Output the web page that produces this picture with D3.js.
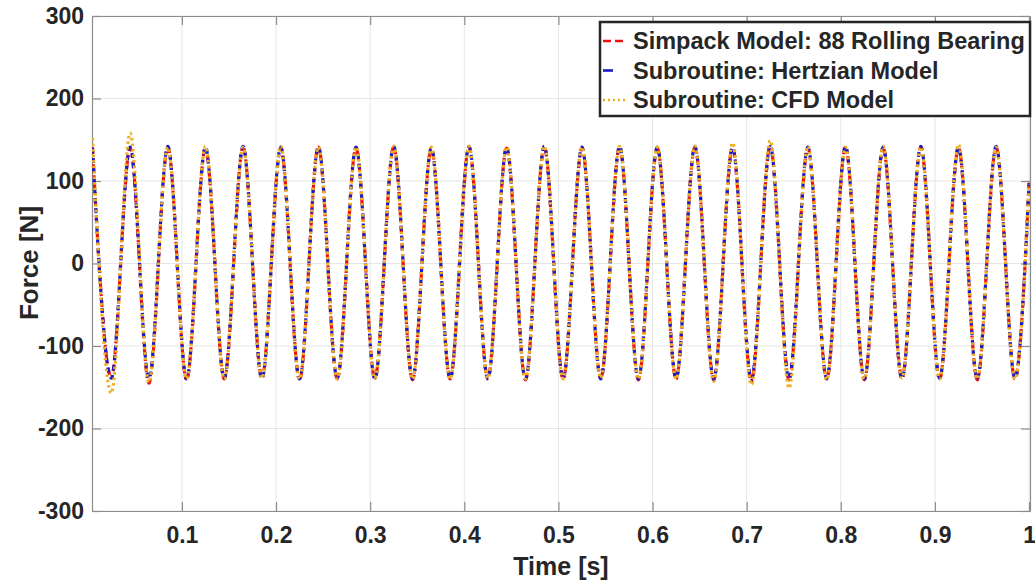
<!DOCTYPE html>
<html>
<head>
<meta charset="utf-8">
<script src="https://cdn.jsdelivr.net/npm/d3@7"></script>
<style>
body{margin:0;background:#fff;}
text{font-family:"Liberation Sans",Arial,sans-serif;font-weight:bold;fill:#262626;}
</style>
</head>
<body>
<div id="chart"></div>
<script>
// extrema of the force signal (peak, trough, peak ...)
var times=[0.005,0.025,0.045,0.065,0.085,0.105,0.125,0.145,0.165,0.185,
           0.205,0.225,0.245,0.265,0.285,0.305,0.325,0.345,0.365,0.385,
           0.405,0.425,0.445,0.465,0.485,0.505,0.525,0.545,0.565,0.585,
           0.605,0.625,0.645,0.665,0.685,0.705,0.725,0.745,0.765,0.785,
           0.805,0.825,0.845,0.865,0.885,0.905,0.925,0.945,0.965,0.985,
           1.0];
var simpack=[141,-138,140,-145,141,-141,140,-140,141,-139,
             140,-141,141,-140,140,-139,141,-141,139,-140,
             141,-139,140,-141,141,-140,140,-139,141,-141,
             140,-140,141,-141,140,-143,142,-141,140,-140,
             141,-141,140,-139,141,-140,140,-141,141,-140,
             98];
var hertz=[140,-139,141,-140,142,-140,141,-139,142,-140,
           141,-140,142,-139,141,-140,142,-140,140,-139,
           142,-140,141,-140,142,-139,141,-140,142,-140,
           141,-139,142,-140,141,-140,142,-140,141,-139,
           142,-140,141,-140,142,-139,141,-140,142,-139,
           97];
var cfd=[152,-157,158,-144,141,-140,142,-140,141,-139,
         142,-140,141,-140,141,-139,142,-140,141,-140,
         142,-139,141,-140,142,-140,141,-139,142,-140,
         141,-140,142,-143,146,-147,149,-151,142,-141,
         141,-140,142,-139,141,-140,144,-140,141,-140,
         96];
var seriesNames=["Simpack Model: 88 Rolling Bearing","Subroutine: Hertzian Model","Subroutine: CFD Model"];
var xTicks=[0.1,0.2,0.3,0.4,0.5,0.6,0.7,0.8,0.9,1];
var yTicks=[-300,-200,-100,0,100,200,300];

var W=1035,H=581;
var pl=92,pr=1030,pt=16,pb=511;
var x=d3.scaleLinear().domain([0.0045,1.001]).range([pl,pr]);
var y=d3.scaleLinear().domain([-300,300]).range([pb,pt]);

var svg=d3.select("#chart").append("svg").attr("width",W).attr("height",H);

// grid
svg.append("g").selectAll("line").data(xTicks).enter().append("line")
   .attr("x1",function(d){return x(d);}).attr("x2",function(d){return x(d);})
   .attr("y1",pt).attr("y2",pb).attr("stroke","#e6e6e6").attr("stroke-width",1);
svg.append("g").selectAll("line").data(yTicks).enter().append("line")
   .attr("y1",function(d){return y(d);}).attr("y2",function(d){return y(d);})
   .attr("x1",pl).attr("x2",pr).attr("stroke","#e6e6e6").attr("stroke-width",1);

// axes (ticks inward, box all round)
var axCol="#8c8c8c";
var plain=function(d){return String(d);};
function styleAx(g){
  g.select(".domain").attr("stroke",axCol).attr("stroke-width",1.2);
  g.selectAll(".tick line").attr("stroke",axCol).attr("stroke-width",1.2);
  g.selectAll(".tick text").style("font-size","23px").attr("fill","#262626");
}
svg.append("g").attr("transform","translate(0,"+pb+")")
   .call(d3.axisBottom(x).tickValues(xTicks).tickFormat(plain).tickSizeInner(-9).tickSizeOuter(0).tickPadding(16))
   .call(styleAx);
svg.append("g").attr("transform","translate(0,"+pt+")")
   .call(d3.axisTop(x).tickValues(xTicks).tickSizeInner(-9).tickSizeOuter(0).tickFormat(""))
   .call(styleAx);
svg.append("g").attr("transform","translate("+pl+",0)")
   .call(d3.axisLeft(y).tickValues(yTicks).tickFormat(plain).tickSizeInner(-9).tickSizeOuter(0).tickPadding(8))
   .call(styleAx);
svg.append("g").attr("transform","translate("+pr+",0)")
   .call(d3.axisRight(y).tickValues(yTicks).tickSizeInner(-9).tickSizeOuter(0).tickFormat(""))
   .call(styleAx);

// lines
svg.append("clipPath").attr("id","clip").append("rect")
   .attr("x",pl).attr("y",pt).attr("width",pr-pl).attr("height",pb-pt);
var line=d3.line().x(function(d){return x(d[0]);}).y(function(d){return y(d[1]);}).curve(d3.curveMonotoneX);
var styles=[
  {vals:simpack,color:"#ee1111",dash:"7,4,2,4"},
  {vals:hertz,color:"#1a1acc",dash:"5,5"},
  {vals:cfd,color:"#edb120",dash:"2.5,3"}
];
var plot=svg.append("g").attr("clip-path","url(#clip)");
styles.forEach(function(s){
  plot.append("path").datum(d3.zip(times,s.vals))
      .attr("d",line).attr("fill","none")
      .attr("stroke",s.color).attr("stroke-width",3.2)
      .attr("stroke-dasharray",s.dash);
});

// axis labels
svg.append("text").attr("x",561).attr("y",575).attr("text-anchor","middle")
   .style("font-size","25px").text("Time [s]");
svg.append("text").attr("transform","translate(38,263) rotate(-90)").attr("text-anchor","middle")
   .style("font-size","26px").text("Force [N]");

// legend
var lg=svg.append("g");
lg.append("rect").attr("x",600).attr("y",22).attr("width",430).attr("height",94)
  .attr("fill","#fff").attr("stroke","#262626").attr("stroke-width",2.5);
var rows=lg.selectAll("g.row").data(seriesNames).enter().append("g").attr("class","row")
  .attr("transform",function(d,i){return "translate(0,"+(41+i*29.5)+")";});
rows.append("line").attr("x1",603).attr("x2",628).attr("y1",0).attr("y2",0)
  .attr("stroke",function(d,i){return styles[i].color;}).attr("stroke-width",2.6)
  .attr("stroke-dasharray",function(d,i){return ["8,4,8,20","10,30","2,3"][i];});
rows.append("text").attr("x",633).attr("y",8).style("font-size","23.5px").text(function(d){return d;});
</script>
</body>
</html>
